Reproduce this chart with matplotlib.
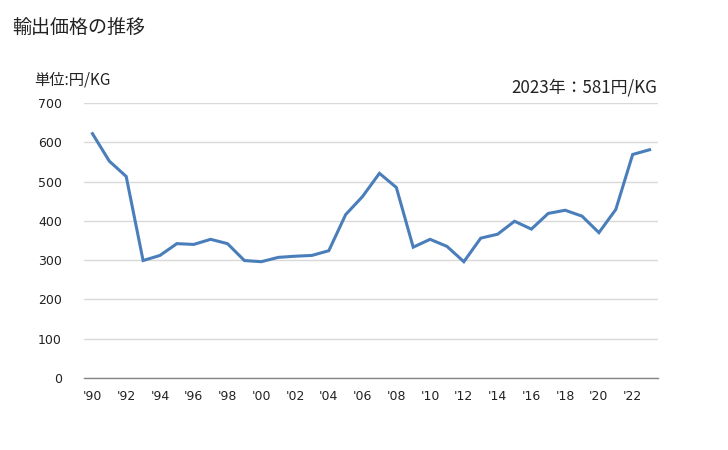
import matplotlib
matplotlib.use('Agg')
import matplotlib.pyplot as plt

plt.rcParams['font.family'] = ['Noto Sans CJK JP', 'DejaVu Sans']

# data
years = list(range(1990, 2024))
prices = [622, 552, 513, 299, 312, 342, 340, 353, 342, 299,
          296, 307, 310, 312, 324, 416, 462, 521, 485, 333,
          353, 335, 296, 356, 366, 399, 379, 419, 427, 412,
          370, 429, 569, 581]
tick_years = list(range(1990, 2023, 2))
tick_labels = ["'%02d" % (y % 100) for y in tick_years]
y_ticks = [0, 100, 200, 300, 400, 500, 600, 700]

fig = plt.figure(figsize=(7.28, 4.5), dpi=100)
ax = fig.add_axes([84 / 728, 1 - 378 / 450, 574 / 728, 275 / 450])

ax.plot(years, prices, color='#4A7EBB', linewidth=2.2, solid_joinstyle='miter')

ax.set_xlim(1989.5, 2023.5)
ax.set_ylim(0, 700)
ax.set_yticks(y_ticks)
ax.set_xticks(tick_years)
ax.set_xticklabels(tick_labels)
ax.yaxis.grid(True, color='#D9D9D9', linewidth=1)
ax.set_axisbelow(True)

for s in ['top', 'right', 'left']:
    ax.spines[s].set_visible(False)
ax.spines['bottom'].set_color('#868686')
ax.spines['bottom'].set_linewidth(1)

ax.tick_params(length=0)
ax.tick_params(axis='y', pad=16)
ax.tick_params(axis='x', pad=9)
for lab in ax.get_xticklabels() + ax.get_yticklabels():
    lab.set_fontfamily('DejaVu Sans')
    lab.set_fontsize(9)
    lab.set_color('#222222')

fig.text(12 / 728, 1 - 28 / 450, '輸出価格の推移', fontsize=13.7, va='center', ha='left', color='#222222')
fig.text(34 / 728, 1 - 80 / 450, '単位:円/KG', fontsize=11, va='center', ha='left', color='#222222')
fig.text(657 / 728, 1 - 87 / 450, '2023年：581円/KG', fontsize=12.2, va='center', ha='right', color='#222222')

fig.savefig('out.png', dpi=100)
